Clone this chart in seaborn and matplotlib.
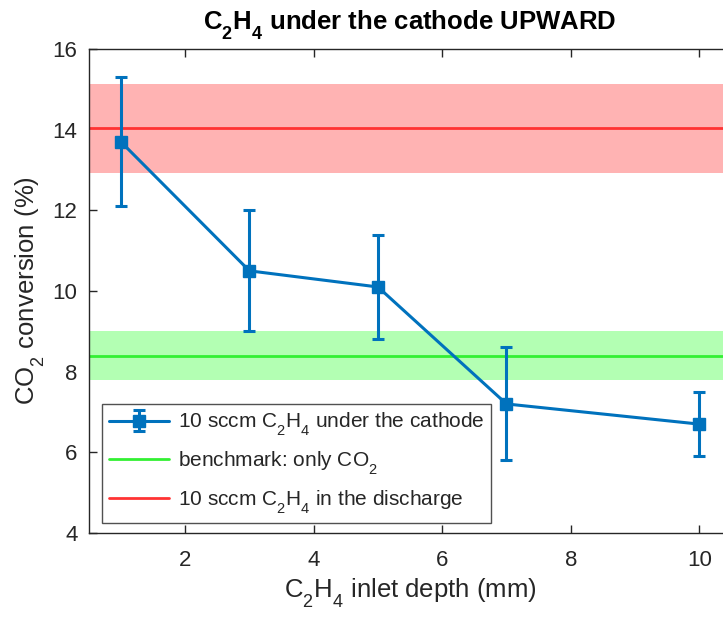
import matplotlib
matplotlib.use("Agg")
import matplotlib.pyplot as plt
import matplotlib._mathtext as mathtext_internals
import seaborn as sns
import numpy as np

# measured CO2 conversion vs. C2H4 inlet depth
depth = [1, 3, 5, 7, 10]
conversion = [13.7, 10.5, 10.1, 7.2, 6.7]
conversion_err = [1.6, 1.5, 1.3, 1.4, 0.8]

# reference levels (mean, lower, upper)
benchmark = [8.4, 7.8, 9.0]
discharge = [14.03, 12.93, 15.12]

x_ticks = [2, 4, 6, 8, 10]
y_ticks = [4, 6, 8, 10, 12, 14, 16]

sns.set_theme(style="white")
plt.rcParams["font.family"] = ["Liberation Sans", "DejaVu Sans"]
plt.rcParams["mathtext.fontset"] = "custom"
plt.rcParams["mathtext.rm"] = "Liberation Sans"
plt.rcParams["mathtext.bf"] = "Liberation Sans:bold"
plt.rcParams["mathtext.default"] = "rm"
# drop subscripts lower, as in classic chemistry labels
mathtext_internals.FontConstantsBase.sub1 = 0.75
mathtext_internals.FontConstantsBase.sub2 = 0.85

fig = plt.figure(figsize=(7.23, 6.17), dpi=100)
ax = fig.add_axes([0.1227, 0.1361, 0.889, 0.7845])

blue = "#0072BD"
green = "#33F033"
red = "#FF3333"

ax.axhspan(discharge[1], discharge[2], color="#FFB3B3", lw=0, zorder=1)
ax.axhspan(benchmark[1], benchmark[2], color="#B3FFB3", lw=0, zorder=1)

eb = ax.errorbar(depth, conversion, yerr=conversion_err, fmt="-s", color=blue,
                 lw=2.2, elinewidth=2.2, capsize=4.5, capthick=2.2, markersize=8.5,
                 zorder=4, label=r"10 sccm C$_2$H$_4$ under the cathode")
l_g = ax.axhline(benchmark[0], color=green, lw=2, zorder=2,
                 label=r"benchmark: only CO$_2$")
l_r = ax.axhline(discharge[0], color=red, lw=2, zorder=2,
                 label=r"10 sccm C$_2$H$_4$ in the discharge")

ax.set_xlim(0.5, 10.5)
ax.set_ylim(4, 16)
ax.set_xticks(x_ticks)
ax.set_yticks(y_ticks)

for s in ax.spines.values():
    s.set_color("#262626")
    s.set_linewidth(1.0)
    s.set_visible(True)

ax.tick_params(axis="both", direction="in", length=6, width=1, color="#262626",
               labelsize=16, labelcolor="#262626", top=True, right=True,
               bottom=True, left=True)
ax.tick_params(axis="x", pad=12)
ax.tick_params(axis="y", pad=8)

ax.set_xlabel(r"C$_2$H$_4$ inlet depth (mm)", fontsize=18.5, color="#262626", labelpad=4)
ax.set_ylabel(r"CO$_2$ conversion (%)", fontsize=18.5, color="#262626", labelpad=4)
ax.set_title(r"C$_\mathbf{2}$H$_\mathbf{4}$ under the cathode UPWARD",
             fontsize=18.5, fontweight="bold", color="#000000", pad=14)

leg = ax.legend(handles=[eb, l_g, l_r], loc="lower left",
                bbox_to_anchor=(0.02, 0.021), borderaxespad=0, fontsize=15,
                frameon=True, fancybox=False, edgecolor="#262626",
                handlelength=2.9, handletextpad=0.4, labelspacing=0.55,
                borderpad=0.35)
leg.get_frame().set_linewidth(1.0)
leg.set_zorder(5)

fig.savefig("out.png", dpi=100)
